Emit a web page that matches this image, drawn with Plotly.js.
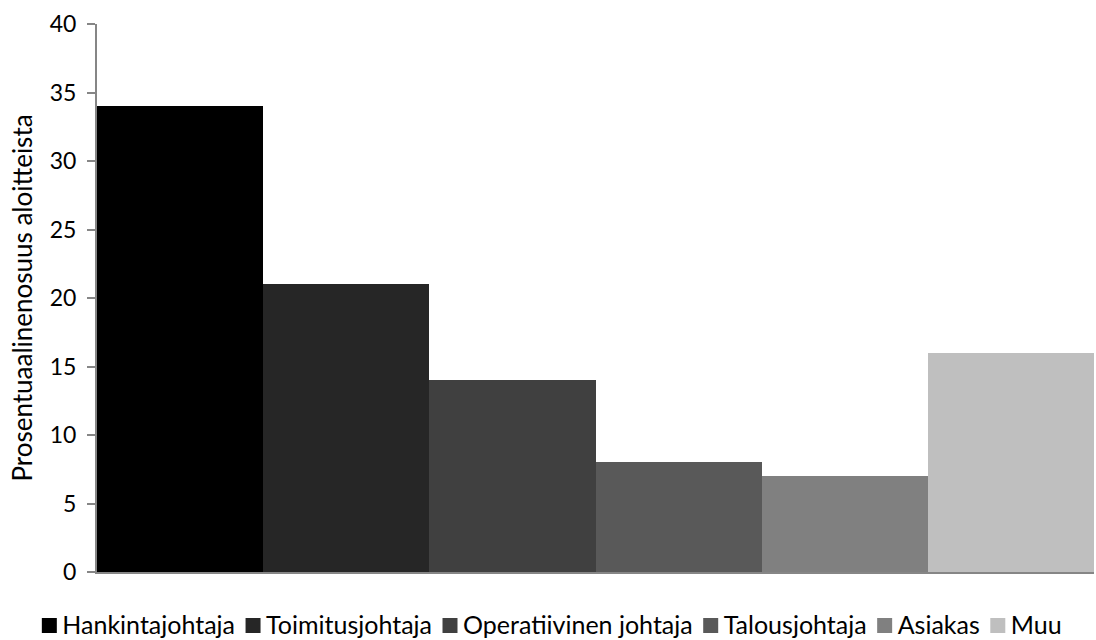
<!DOCTYPE html>
<html>
<head>
<meta charset="utf-8">
<script src="https://cdn.plot.ly/plotly-3.0.1.min.js"></script>
<style>html,body{margin:0;padding:0;background:#fff;}#chart{width:1096px;height:640px;}</style>
</head>
<body>
<div id="chart"></div>
<script>
const seriesNames = ["Hankintajohtaja", "Toimitusjohtaja", "Operatiivinen johtaja", "Talousjohtaja", "Asiakas", "Muu"];
const seriesValues = [34, 21, 14, 8, 7, 16];
const seriesColors = ["#000000", "#262626", "#404040", "#595959", "#808080", "#bfbfbf"];
const category = ["Aloitteet"];
const yTickVals = [0, 5, 10, 15, 20, 25, 30, 35, 40];

const traces = seriesNames.map((n, i) => ({
  type: "bar",
  name: n,
  x: category,
  y: [seriesValues[i]],
  marker: {color: seriesColors[i], line: {width: 0}},
  hoverinfo: "name+y"
}));

const layout = {
  width: 1096, height: 640,
  margin: {l: 97, r: 2, t: 24, b: 68, autoexpand: false},
  paper_bgcolor: "#ffffff", plot_bgcolor: "#ffffff",
  font: {family: "Lato, 'Open Sans', sans-serif", size: 20, color: "#000"},
  barmode: "group", bargap: 0, bargroupgap: 0,
  showlegend: true,
  legend: {orientation: "h", x: 0.5, xanchor: "center", y: -0.06, yanchor: "top",
           font: {size: 18}, itemwidth: 30, tracegroupgap: 0, itemclick: false},
  xaxis: {range: [-0.5, 0.5], showticklabels: false, ticks: "", showgrid: false, zeroline: false,
          showline: true, linecolor: "#868686", linewidth: 2},
  yaxis: {range: [0, 40], tickvals: yTickVals, ticks: "outside", ticklen: 8, tickcolor: "#868686", tickwidth: 2,
          showgrid: false, zeroline: false, showline: true, linecolor: "#868686", linewidth: 2,
          tickfont: {size: 23}, ticklabelstandoff: 6,
          title: {text: "Prosentuaalinenosuus aloitteista", font: {size: 26}, standoff: 10}}
};
Plotly.newPlot("chart", traces, layout, {displayModeBar: false, staticPlot: true}).then(gd => {
  // restyle legend entries: bigger text and squares, compact spacing, centred like the reference
  const legend = gd.querySelector(".legend");
  if (!legend) return;
  const sb = legend.querySelector(".scrollbox");
  if (sb) sb.removeAttribute("clip-path");
  const bg = legend.querySelector(".bg");
  if (bg) bg.setAttribute("width", 0);
  const items = Array.from(legend.querySelectorAll(".traces"));
  let cum = 0;
  const gap = 10;
  const positions = [];
  items.forEach(it => {
    const p = it.querySelector(".legendpoints path");
    if (p) { p.setAttribute("d", "M7.5,7.5H-7.5V-7.5H7.5Z"); p.setAttribute("transform", "translate(8,0)"); }
    const t = it.querySelector("text.legendtext");
    t.style.fontSize = "25px";
    t.setAttribute("x", 21);
    t.setAttribute("y", 8);
    t.querySelectorAll("tspan").forEach(s => { s.removeAttribute("dy"); s.setAttribute("x", 21); });
    const w = 21 + t.getComputedTextLength();
    positions.push(cum);
    cum += w + gap;
  });
  const total = cum - gap;
  const parentCTM = items[0].parentNode.getCTM();
  const start = (551.5 - total / 2) - parentCTM.e;
  const yLocal = 625.5 - parentCTM.f;
  items.forEach((it, i) => {
    it.setAttribute("transform", `translate(${start + positions[i]},${yLocal})`);
  });
});
</script>
</body>
</html>
